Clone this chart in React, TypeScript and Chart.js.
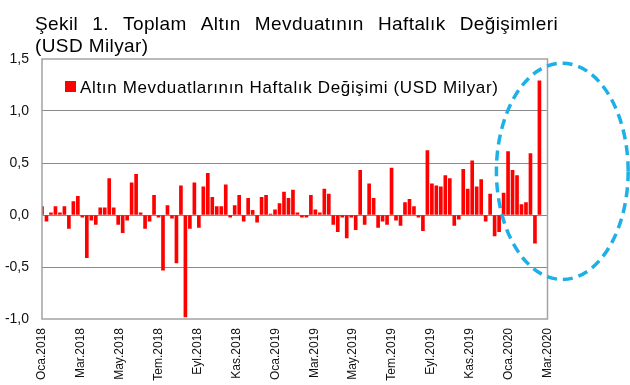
import React, { useEffect, useRef } from "react";
import { Chart, registerables } from "chart.js";

Chart.register(...registerables);

// Weekly change of total gold deposits (USD billion), Jan 2018 – Mar 2020
const weeklyChange: number[] = [
  0.08, -0.06, 0.02, 0.08, 0.02, 0.08, -0.13, 0.13, 0.18, -0.02,
  -0.41, -0.05, -0.09, 0.07, 0.07, 0.35, 0.07, -0.09, -0.17, -0.05,
  0.31, 0.39, 0.02, -0.13, -0.06, 0.19, -0.02, -0.53, 0.09, -0.03,
  -0.46, 0.28, -0.98, -0.13, 0.31, -0.12, 0.27, 0.4, 0.17, 0.08,
  0.08, 0.29, -0.02, 0.09, 0.19, -0.06, 0.16, 0.045, -0.07, 0.17,
  0.19, 0.01, 0.05, 0.11, 0.22, 0.16, 0.24, 0.02, -0.02, -0.02,
  0.19, 0.05, 0.02, 0.25, 0.2, -0.09, -0.16, -0.02, -0.22, -0.02,
  -0.14, 0.43, -0.09, 0.3, 0.16, -0.12, -0.06, -0.09, 0.45, -0.05,
  -0.1, 0.12, 0.15, 0.08, -0.02,
  -0.15, 0.62, 0.3, 0.28, 0.27, 0.38, 0.35, -0.1, -0.04, 0.44,
  0.25, 0.52, 0.27, 0.34, -0.06, 0.2, -0.2, -0.16, 0.21, 0.61,
  0.43, 0.38, 0.1, 0.12, 0.59, -0.27, 1.29,
];

const monthLabels: string[] = [
  "Oca.2018", "Mar.2018", "May.2018", "Tem.2018", "Eyl.2018", "Kas.2018",
  "Oca.2019", "Mar.2019", "May.2019", "Tem.2019", "Eyl.2019", "Kas.2019",
  "Oca.2020", "Mar.2020",
];

const yMin = -1;
const yMax = 1.5;
const yStep = 0.5;
const weekSpan = 112.8; // weeks covered by the axis (Oca.2018 → Mar.2020)

const seriesLabel = "Altın Mevduatlarının Haftalık Değişimi (USD Milyar)";
const titleLines: string[] = [
  "Şekil 1. Toplam Altın Mevduatının Haftalık Değişimleri",
  "(USD Milyar)",
];

// highlight ellipse, in data units (week index / value)
const highlightCenter = [116.1, 0.42];
const highlightRadius = [14.7, 1.04];

const FONT = "'Liberation Sans', Arial, sans-serif";

export default function App() {
  const ref = useRef<HTMLCanvasElement>(null);

  useEffect(() => {
    const canvas = ref.current;
    if (!canvas) return;

    const notesPlugin = {
      id: "notes",
      afterDatasetsDraw(chart: any) {
        const { ctx, chartArea: a, scales } = chart;
        ctx.save();
        // frame
        ctx.strokeStyle = "#a3a3a3";
        ctx.lineWidth = 1.5;
        ctx.strokeRect(a.left, a.top, a.right - a.left, a.bottom - a.top);

        // legend inside plot
        const ds = chart.data.datasets[0];
        ctx.fillStyle = ds.backgroundColor as string;
        ctx.fillRect(a.left + 23, a.top + 22, 11, 11);
        ctx.fillStyle = "#000";
        ctx.font = `17px ${FONT}`;
        (ctx as any).letterSpacing = "0.65px";
        ctx.textBaseline = "alphabetic";
        ctx.textAlign = "left";
        ctx.fillText(ds.label, a.left + 38, a.top + 34);

        // title: first line justified from x=35 to x=558
        ctx.font = `19px ${FONT}`;
        (ctx as any).letterSpacing = "0.4px";
        const left = 35;
        const right = 558;
        const words = titleLines[0].split(" ");
        const widths = words.map((w) => ctx.measureText(w).width);
        const total = widths.reduce((s, w) => s + w, 0);
        const gap = (right - left - total) / (words.length - 1);
        let x = left;
        words.forEach((w, i) => {
          ctx.fillText(w, x, 30);
          x += widths[i] + gap;
        });
        ctx.fillText(titleLines[1], left, 52);
        (ctx as any).letterSpacing = "0px";

        // dashed highlight ellipse
        const xs = scales.x;
        const ys = scales.y;
        const cx = xs.getPixelForValue(highlightCenter[0]);
        const cy = ys.getPixelForValue(highlightCenter[1]);
        const rx = xs.getPixelForValue(highlightCenter[0] + highlightRadius[0]) - cx;
        const ry = cy - ys.getPixelForValue(highlightCenter[1] + highlightRadius[1]);
        ctx.setLineDash([10, 6]);
        ctx.lineWidth = 3.5;
        ctx.strokeStyle = "#1DB0E6";
        ctx.beginPath();
        ctx.ellipse(cx, cy, rx, ry, 0, 0, Math.PI * 2);
        ctx.stroke();
        ctx.restore();
      },
    };

    const chart = new Chart(canvas, {
      type: "bar",
      data: {
        datasets: [
          {
            label: seriesLabel,
            data: weeklyChange.map((v, i) => ({ x: i, y: v })),
            backgroundColor: "#ff0000",
            borderWidth: 0,
            barThickness: 3,
          },
        ],
      },
      options: {
        animation: false,
        responsive: false,
        layout: { padding: { left: 0, right: 82.5, top: 59, bottom: 0 } },
        plugins: {
          legend: { display: false },
          title: { display: false },
          tooltip: { enabled: false },
        },
        scales: {
          x: {
            type: "linear",
            min: 0,
            max: weekSpan,
            offset: false,
            grid: { display: false, offset: false, drawTicks: false },
            border: { display: false },
            afterBuildTicks: (scale: any) => {
              scale.ticks = monthLabels.map((_, k) => ({
                value: (k * weekSpan) / (monthLabels.length - 1),
              }));
            },
            afterFit: (scale: any) => {
              scale.height = 66;
            },
            ticks: {
              autoSkip: false,
              maxRotation: 90,
              minRotation: 90,
              padding: 9,
              color: "#111",
              font: { family: FONT, size: 12 },
              callback: (_v: any, idx: number) => monthLabels[idx],
            },
          },
          y: {
            min: yMin,
            max: yMax,
            border: { display: false },
            grid: {
              drawTicks: false,
              lineWidth: 1,
              color: (c: any) =>
                c.tick && (c.tick.value === yMin || c.tick.value === yMax)
                  ? "rgba(0,0,0,0)"
                  : "#8a8a8a",
            },
            afterFit: (scale: any) => {
              scale.width = 42;
            },
            ticks: {
              stepSize: yStep,
              padding: 13,
              color: "#111",
              font: { family: FONT, size: 14 },
              callback: (v: any) => Number(v).toFixed(1).replace(".", ","),
            },
          },
        },
      } as any,
      plugins: [notesPlugin],
    });

    return () => chart.destroy();
  }, []);

  return (
    <div
      style={{
        position: "absolute",
        left: 0,
        top: 0,
        width: 630,
        height: 385,
        background: "#fff",
        overflow: "hidden",
      }}
    >
      <canvas ref={ref} width={630} height={385} style={{ display: "block" }} />
    </div>
  );
}
